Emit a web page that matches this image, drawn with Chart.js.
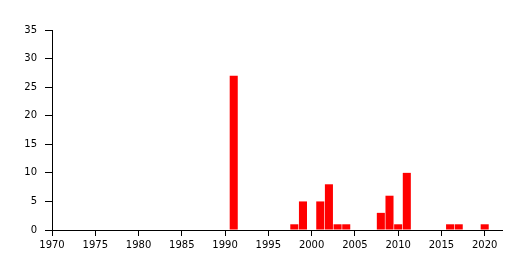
<!DOCTYPE html>
<html>
<head>
<meta charset="utf-8">
<script src="https://cdn.jsdelivr.net/npm/chart.js@4/dist/chart.umd.min.js"></script>
<style>
  html, body { margin: 0; padding: 0; background: #fff; }
  #wrap { width: 522px; height: 270px; }
</style>
</head>
<body>
<div id="wrap"><canvas id="barChart" width="522" height="270"></canvas></div>
<script>
const years = [1991, 1998, 1999, 2001, 2002, 2003, 2004, 2008, 2009, 2010, 2011, 2016, 2017, 2020];
const counts = [27, 1, 5, 5, 8, 1, 1, 3, 6, 1, 10, 1, 1, 1];
const xTicks = [1970, 1975, 1980, 1985, 1990, 1995, 2000, 2005, 2010, 2015, 2020];
const yTicks = [0, 5, 10, 15, 20, 25, 30, 35];

const ctx = document.getElementById('barChart').getContext('2d');

Chart.defaults.font.family = '"DejaVu Sans", sans-serif';
Chart.defaults.font.size = 10;
Chart.defaults.color = '#000';

const barChart = new Chart(ctx, {
    type: 'bar',
    data: {
        datasets: [{
            data: years.map((y, i) => ({ x: y, y: counts[i] })),
            backgroundColor: '#ff0000',
            borderWidth: 0,
            barPercentage: 1,
            categoryPercentage: 0.93,
        }]
    },
    options: {
        responsive: false,
        animation: false,
        layout: { padding: { top: 30, right: 20, left: 0, bottom: 0 } },
        plugins: {
            legend: { display: false },
            tooltip: { enabled: false }
        },
        scales: {
            x: {
                type: 'linear',
                min: 1970,
                max: 2022,
                offset: false,
                grid: { offset: false, drawOnChartArea: false, drawTicks: true, tickLength: 6, color: '#000' },
                border: { color: '#000', width: 1 },
                ticks: { padding: 3, maxRotation: 0, autoSkip: false, callback: v => String(v) },
                afterBuildTicks: axis => { axis.ticks = xTicks.map(v => ({ value: v })); },
                afterFit: axis => { axis.height = 40; }
            },
            y: {
                min: 0,
                max: 35,
                grid: { drawOnChartArea: false, drawTicks: true, tickLength: 7, color: '#000' },
                border: { color: '#000', width: 1 },
                ticks: { padding: 8, callback: v => String(v) },
                afterBuildTicks: axis => { axis.ticks = yTicks.map(v => ({ value: v })); },
                afterFit: axis => { axis.width = 52; }
            }
        }
    }
});
</script>
</body>
</html>
